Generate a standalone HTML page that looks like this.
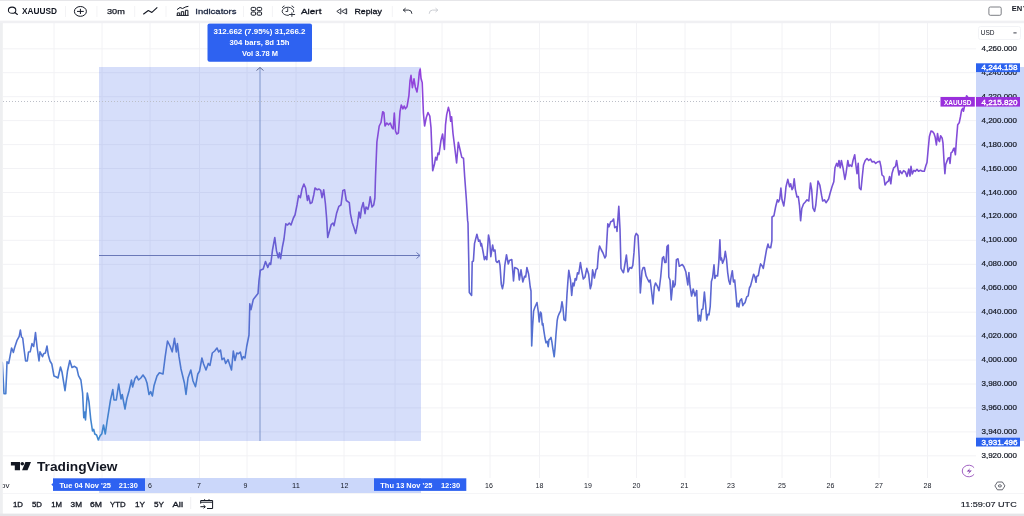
<!DOCTYPE html>
<html lang="en"><head><meta charset="utf-8"><title>XAUUSD 4,215.820 - TradingView</title>
<style>
html,body{margin:0;padding:0;background:#fff;}
body{width:1024px;height:516px;overflow:hidden;position:relative;font-family:"Liberation Sans", Arial, sans-serif;}
#app{position:absolute;left:0;top:0;width:1024px;height:516px;overflow:hidden;background:#fff;}
#app svg{position:absolute;left:0;top:0;display:block;overflow:visible;filter:blur(0.45px);}
text{font-family:"Liberation Sans", Arial, sans-serif;}
</style></head><body><div id="app">
<svg width="1024" height="516" viewBox="0 0 1024 516">
<defs>
<linearGradient id="lg" gradientUnits="userSpaceOnUse" x1="0" y1="67" x2="0" y2="441"><stop offset="0" stop-color="#9640dc"/><stop offset="0.5" stop-color="#655fd2"/><stop offset="1" stop-color="#3d88cf"/></linearGradient>
</defs>
<g id="grid" stroke="#f2f2f5" stroke-width="1">
<line x1="54" y1="23" x2="54" y2="478"/>
<line x1="102" y1="23" x2="102" y2="478"/>
<line x1="150" y1="23" x2="150" y2="478"/>
<line x1="199.5" y1="23" x2="199.5" y2="478"/>
<line x1="247" y1="23" x2="247" y2="478"/>
<line x1="296" y1="23" x2="296" y2="478"/>
<line x1="344" y1="23" x2="344" y2="478"/>
<line x1="395" y1="23" x2="395" y2="478"/>
<line x1="442" y1="23" x2="442" y2="478"/>
<line x1="490" y1="23" x2="490" y2="478"/>
<line x1="539.5" y1="23" x2="539.5" y2="478"/>
<line x1="588" y1="23" x2="588" y2="478"/>
<line x1="636.5" y1="23" x2="636.5" y2="478"/>
<line x1="685" y1="23" x2="685" y2="478"/>
<line x1="731" y1="23" x2="731" y2="478"/>
<line x1="782" y1="23" x2="782" y2="478"/>
<line x1="830.5" y1="23" x2="830.5" y2="478"/>
<line x1="879" y1="23" x2="879" y2="478"/>
<line x1="927.5" y1="23" x2="927.5" y2="478"/>
<line x1="3" y1="48.8" x2="976" y2="48.8"/>
<line x1="3" y1="72.7" x2="976" y2="72.7"/>
<line x1="3" y1="96.7" x2="976" y2="96.7"/>
<line x1="3" y1="120.6" x2="976" y2="120.6"/>
<line x1="3" y1="144.6" x2="976" y2="144.6"/>
<line x1="3" y1="168.5" x2="976" y2="168.5"/>
<line x1="3" y1="192.5" x2="976" y2="192.5"/>
<line x1="3" y1="216.4" x2="976" y2="216.4"/>
<line x1="3" y1="240.3" x2="976" y2="240.3"/>
<line x1="3" y1="264.3" x2="976" y2="264.3"/>
<line x1="3" y1="288.2" x2="976" y2="288.2"/>
<line x1="3" y1="312.2" x2="976" y2="312.2"/>
<line x1="3" y1="336.1" x2="976" y2="336.1"/>
<line x1="3" y1="360.0" x2="976" y2="360.0"/>
<line x1="3" y1="384.0" x2="976" y2="384.0"/>
<line x1="3" y1="407.9" x2="976" y2="407.9"/>
<line x1="3" y1="431.9" x2="976" y2="431.9"/>
<line x1="3" y1="455.8" x2="976" y2="455.8"/>
</g>
<rect id="measure" x="99" y="67" width="322" height="374" fill="#325ae6" fill-opacity="0.2"/>
<rect x="976" y="67" width="54" height="374" fill="#2f5feb" fill-opacity="0.25"/>
<rect x="99" y="478" width="322" height="15" fill="#2f5feb" fill-opacity="0.25"/>
<g stroke="#6a78b8" stroke-width="1" fill="none">
<line x1="260" y1="67.5" x2="260" y2="441" stroke="#7d93c9"/>
<polyline points="256.5,70.5 260,67.5 263.5,70.5" stroke="#5c6690"/>
<line x1="99" y1="255.5" x2="420" y2="255.5"/>
<polyline points="416.5,252.5 420,255.5 416.5,258.5"/>
</g>
<line x1="3" y1="101.5" x2="940" y2="101.5" stroke="#bcbfc8" stroke-width="1" stroke-dasharray="1 2"/>
<polyline id="series" points="2.3,362.5 4.0,393.7 5.8,393.7 7.0,361.7 8.7,363.4 11.6,348.0 13.4,352.4 14.5,348.0 16.9,340.7 19.2,336.4 20.4,330.0 21.5,337.0 22.7,338.0 23.9,348.0 25.6,361.0 27.3,361.0 28.5,352.0 30.2,351.8 32.0,343.6 33.7,346.5 35.5,332.6 37.2,348.0 39.0,361.0 40.0,351.8 42.5,356.7 43.6,353.8 45.4,353.0 47.0,346.0 48.3,355.0 50.0,361.0 51.8,364.0 54.0,376.0 56.4,377.0 58.0,378.0 60.5,367.0 62.0,372.0 65.0,390.7 67.5,371.0 69.8,360.5 72.0,367.5 74.5,366.3 76.8,368.0 78.5,375.6 80.9,380.0 82.6,393.0 83.8,417.8 84.9,412.0 85.5,420.0 87.3,393.0 89.0,401.8 90.7,419.0 92.5,431.0 93.7,429.4 94.8,434.0 96.6,435.0 98.3,440.0 100.0,436.0 101.8,433.8 103.5,425.0 105.3,434.0 107.0,422.0 110.5,400.0 112.8,389.6 114.0,400.0 116.3,400.0 118.7,384.0 121.0,399.0 122.2,394.5 125.0,409.0 126.8,399.0 129.0,391.0 131.5,380.0 132.6,387.0 135.0,378.5 136.7,376.2 138.5,380.0 140.8,378.0 143.0,375.0 145.4,378.5 147.0,383.0 149.0,394.5 150.7,391.6 152.4,396.0 154.0,385.8 157.0,376.0 159.4,372.7 163.0,374.0 165.2,356.7 167.5,341.0 170.0,346.0 172.2,351.8 174.5,338.4 176.3,352.0 177.4,343.6 179.0,356.7 181.0,369.0 182.7,376.0 184.4,383.0 186.0,394.5 188.0,378.0 190.8,370.0 193.0,381.0 195.5,386.7 197.8,374.0 199.5,371.3 201.9,358.0 203.6,364.0 206.0,370.0 208.3,363.4 210.0,365.4 212.3,353.0 214.7,351.0 217.0,348.0 218.7,352.0 220.5,350.0 222.0,359.6 224.0,358.0 225.7,363.4 228.0,359.6 231.5,370.0 233.3,351.0 235.0,360.5 236.8,353.0 238.5,353.8 240.3,352.0 242.0,359.6 243.2,356.7 245.0,358.0 246.7,346.5 249.0,335.0 249.6,312.0 249.8,303.8 251.0,309.6 253.3,299.4 255.6,296.5 258.0,293.6 259.0,280.5 260.3,270.3 263.2,269.0 265.5,261.6 267.8,267.4 269.6,263.0 270.7,264.5 272.5,250.0 274.8,237.5 276.5,250.9 278.3,257.8 279.4,252.9 280.6,258.7 282.4,247.0 284.0,239.0 285.8,223.8 287.6,225.0 289.3,223.0 291.0,225.0 293.4,218.0 295.0,215.0 297.0,205.0 298.6,195.6 300.4,197.6 302.0,189.0 303.9,184.0 305.6,188.0 307.4,200.5 308.5,195.6 310.3,203.5 312.0,202.6 313.8,194.7 315.0,188.0 317.3,189.8 319.0,189.0 320.7,190.4 322.0,197.6 323.7,189.8 325.4,203.5 326.6,218.0 327.7,237.5 329.5,231.0 331.2,224.7 333.0,223.0 334.0,225.8 336.5,213.6 338.8,206.4 341.0,205.0 342.9,190.4 344.6,189.8 346.3,200.5 349.3,202.6 350.4,213.6 352.2,222.4 353.9,227.6 355.7,233.4 357.4,224.7 359.0,212.0 360.3,218.0 361.5,208.4 363.2,202.6 365.0,213.6 366.0,207.0 367.9,209.3 369.0,205.0 370.2,196.8 372.0,207.0 373.7,205.0 374.9,198.0 375.5,177.0 376.9,142.0 379.2,126.0 381.0,122.5 382.7,111.7 383.9,112.6 385.0,126.0 386.8,123.0 388.5,124.8 390.3,123.0 392.0,127.7 393.2,129.0 394.3,113.0 395.5,131.0 396.7,134.0 398.4,133.0 400.0,111.7 401.3,105.0 403.0,108.8 404.2,106.0 405.4,108.8 407.0,106.8 408.9,95.7 410.0,81.0 411.0,75.4 412.4,87.6 414.0,78.9 415.3,87.0 417.0,92.0 418.2,84.0 419.3,72.5 420.2,69.0 421.0,78.3 422.2,82.6 423.4,113.0 424.6,126.0 426.3,117.5 428.0,112.6 429.8,116.0 431.0,127.7 432.0,154.0 432.7,170.8 434.5,164.0 435.6,157.4 436.8,160.0 438.0,153.0 439.0,154.5 440.9,140.8 442.6,134.0 444.4,149.5 445.5,124.8 446.7,114.6 448.4,107.4 449.6,111.7 450.7,121.3 451.6,116.7 453.0,133.5 454.8,148.0 456.6,163.0 458.3,142.3 460.0,149.5 461.8,157.4 463.5,158.3 464.7,177.0 466.4,200.0 467.6,220.4 468.0,223.0 468.7,258.0 469.3,292.5 471.6,295.4 472.2,261.7 473.4,261.0 474.5,243.6 476.9,234.3 478.6,241.3 479.8,240.0 481.0,246.0 481.5,243.6 483.3,253.0 484.4,259.6 485.6,256.7 486.8,259.6 488.5,235.0 489.7,240.7 490.8,256.7 492.6,245.0 493.7,251.0 495.0,250.0 496.0,261.0 497.2,262.5 499.0,260.5 500.0,265.4 501.3,284.4 502.5,288.7 503.6,283.0 504.8,265.4 506.5,254.7 508.3,264.0 509.4,260.5 511.8,259.6 513.0,274.0 513.5,281.0 514.7,267.5 517.0,268.4 518.2,269.8 519.3,280.0 521.0,269.8 522.8,282.0 524.6,276.2 525.7,277.0 526.9,267.5 528.6,274.0 529.4,280.0 530.2,287.0 531.0,291.0 531.4,326.5 531.7,346.0 532.6,326.5 533.6,311.0 535.0,307.0 537.0,302.5 538.2,311.0 539.2,322.0 540.4,312.0 541.3,313.4 542.3,325.0 542.9,323.4 543.8,330.4 545.0,338.0 546.0,342.8 547.2,341.3 548.2,346.7 549.0,339.7 550.0,339.0 551.0,337.4 551.9,342.0 552.8,348.3 554.2,356.8 555.0,348.3 556.0,334.3 557.2,320.3 558.0,316.5 559.3,313.4 560.6,311.0 562.0,301.7 563.0,308.0 564.0,319.6 565.5,320.6 566.2,309.5 567.0,294.0 568.0,280.0 568.8,270.4 570.5,280.0 571.7,295.4 572.9,283.0 574.0,285.8 575.2,278.5 576.3,280.0 577.5,272.7 578.7,274.0 580.4,262.5 581.6,269.8 583.3,279.0 585.0,277.0 586.8,268.4 588.6,274.0 590.3,288.7 591.5,284.4 592.6,269.8 594.4,278.0 596.0,269.8 597.3,268.4 598.5,252.4 599.6,246.0 601.4,250.0 603.0,253.0 604.9,258.0 606.0,255.8 607.8,223.8 609.0,226.8 610.7,221.8 612.4,221.0 613.6,219.0 614.7,227.6 616.5,226.8 617.0,231.4 618.8,206.4 620.0,229.0 621.0,268.4 622.3,271.0 623.5,272.7 625.2,262.5 626.4,255.0 628.0,272.0 629.9,267.5 631.6,268.4 632.8,265.4 634.0,252.4 635.0,236.4 636.3,233.4 638.0,235.5 639.2,258.0 640.3,293.0 642.0,271.0 643.2,267.5 644.4,267.5 646.0,275.6 647.3,278.5 649.0,282.0 650.2,280.0 651.4,290.0 653.0,304.0 654.3,287.0 655.5,283.0 657.2,285.8 659.0,290.7 660.7,277.0 662.4,258.0 663.6,256.7 664.8,262.5 666.0,262.5 667.0,246.5 668.3,245.0 668.8,277.0 670.0,280.0 671.2,300.0 673.0,280.9 674.0,287.0 675.2,284.4 676.4,259.6 678.0,258.8 679.3,266.3 680.0,265.9 682.3,264.5 683.9,266.8 685.8,271.7 687.8,285.0 688.9,272.6 690.0,286.0 691.6,296.0 693.2,289.0 695.0,296.0 696.7,290.5 697.4,307.5 698.2,321.0 699.4,315.3 700.5,321.0 701.7,309.5 702.9,309.0 704.4,292.0 705.6,304.6 706.7,320.0 707.9,314.3 709.0,314.9 710.2,306.6 711.4,281.4 712.6,277.5 714.0,264.9 714.9,278.4 716.0,275.5 717.6,276.0 718.8,262.0 719.9,239.7 720.7,260.0 721.5,258.0 722.6,263.3 724.2,259.0 725.3,251.3 726.5,259.0 727.7,272.6 728.8,280.4 730.0,284.3 731.2,276.5 732.3,270.7 733.5,282.0 734.7,280.0 735.8,292.0 737.0,306.6 738.0,303.3 738.9,307.0 740.0,300.7 741.6,298.8 742.8,305.6 744.0,303.6 745.0,302.7 746.7,296.9 748.2,295.9 749.4,288.0 750.5,286.0 752.0,280.4 753.6,274.2 754.8,276.5 756.0,282.3 756.7,276.5 758.3,275.5 759.5,268.8 760.6,263.9 762.2,265.9 763.3,268.4 764.9,259.0 766.4,250.3 768.0,244.0 769.0,247.4 770.7,247.8 771.9,240.7 772.0,217.0 773.9,215.8 775.6,207.0 777.4,199.8 778.5,202.0 779.7,199.0 780.9,188.0 782.0,199.8 783.8,206.0 785.0,197.0 786.0,186.7 787.8,179.4 789.6,186.7 790.7,183.8 792.0,189.6 793.0,188.0 794.2,178.9 795.4,189.6 797.0,197.0 798.3,196.5 799.5,205.6 800.6,220.8 801.8,208.5 803.5,204.0 805.3,202.0 807.0,199.8 808.8,201.0 810.5,183.0 811.7,189.6 812.9,208.0 814.6,211.4 815.8,205.0 817.0,192.5 818.0,181.0 819.8,185.0 821.6,195.4 822.7,201.0 824.5,199.8 826.0,202.7 828.6,199.0 830.3,192.5 832.0,186.7 833.8,181.8 835.0,167.8 836.7,163.4 837.9,166.4 839.0,160.5 840.2,167.8 841.4,160.5 843.0,167.8 844.9,179.4 846.0,173.6 847.8,160.5 849.0,166.4 850.0,165.0 851.8,166.4 853.0,160.5 854.7,154.7 855.9,165.0 857.0,173.6 858.2,163.4 859.4,188.0 861.0,189.6 862.3,176.5 863.5,165.0 865.2,160.5 867.0,158.5 868.7,160.5 870.4,159.0 872.2,162.0 874.0,161.4 875.7,163.4 877.4,162.0 879.8,161.4 880.9,166.4 882.0,175.0 883.8,176.5 885.0,185.0 886.7,182.4 888.5,181.0 889.6,176.5 890.8,183.8 892.0,173.6 893.7,167.8 895.5,166.4 896.6,160.5 897.8,167.8 899.0,175.0 900.0,170.7 901.9,173.6 903.6,170.7 905.4,172.0 907.0,176.5 908.8,169.0 910.0,176.0 911.0,166.4 912.3,174.0 913.9,170.3 915.4,171.3 917.0,169.3 918.5,171.3 920.5,170.3 922.4,171.3 924.3,171.3 925.9,165.5 927.0,162.5 928.2,149.0 929.4,136.4 931.0,131.0 932.5,131.5 934.0,133.5 935.2,137.3 936.4,145.0 937.5,133.5 938.7,140.3 939.5,141.6 940.6,135.8 942.2,138.3 943.0,143.2 944.1,162.5 944.9,173.8 945.7,164.5 946.8,161.6 948.0,158.3 949.2,157.7 950.0,163.5 951.0,152.9 952.3,151.9 953.4,149.0 954.2,148.0 955.4,154.8 956.5,139.3 957.7,124.7 959.2,122.8 960.4,117.0 961.6,110.2 962.7,108.3 963.5,111.2 964.3,107.3 965.2,101.0 966.6,95.7 967.6,97.0" fill="none" stroke="url(#lg)" stroke-width="1.6" stroke-linejoin="round" stroke-linecap="round"/>
<g id="price-axis" font-size="7.6" fill="#131722">
<text x="981.5" y="50.8" font-size="7.6" font-weight="400" fill="#131722" textLength="35.5" lengthAdjust="spacingAndGlyphs" stroke="#131722" stroke-width="0.2">4,260.000</text>
<text x="981.5" y="74.7" font-size="7.6" font-weight="400" fill="#131722" textLength="35.5" lengthAdjust="spacingAndGlyphs" stroke="#131722" stroke-width="0.2">4,240.000</text>
<text x="981.5" y="98.7" font-size="7.6" font-weight="400" fill="#131722" textLength="35.5" lengthAdjust="spacingAndGlyphs" stroke="#131722" stroke-width="0.2">4,220.000</text>
<text x="981.5" y="122.6" font-size="7.6" font-weight="400" fill="#131722" textLength="35.5" lengthAdjust="spacingAndGlyphs" stroke="#131722" stroke-width="0.2">4,200.000</text>
<text x="981.5" y="146.6" font-size="7.6" font-weight="400" fill="#131722" textLength="35.5" lengthAdjust="spacingAndGlyphs" stroke="#131722" stroke-width="0.2">4,180.000</text>
<text x="981.5" y="170.5" font-size="7.6" font-weight="400" fill="#131722" textLength="35.5" lengthAdjust="spacingAndGlyphs" stroke="#131722" stroke-width="0.2">4,160.000</text>
<text x="981.5" y="194.5" font-size="7.6" font-weight="400" fill="#131722" textLength="35.5" lengthAdjust="spacingAndGlyphs" stroke="#131722" stroke-width="0.2">4,140.000</text>
<text x="981.5" y="218.4" font-size="7.6" font-weight="400" fill="#131722" textLength="35.5" lengthAdjust="spacingAndGlyphs" stroke="#131722" stroke-width="0.2">4,120.000</text>
<text x="981.5" y="242.3" font-size="7.6" font-weight="400" fill="#131722" textLength="35.5" lengthAdjust="spacingAndGlyphs" stroke="#131722" stroke-width="0.2">4,100.000</text>
<text x="981.5" y="266.3" font-size="7.6" font-weight="400" fill="#131722" textLength="35.5" lengthAdjust="spacingAndGlyphs" stroke="#131722" stroke-width="0.2">4,080.000</text>
<text x="981.5" y="290.2" font-size="7.6" font-weight="400" fill="#131722" textLength="35.5" lengthAdjust="spacingAndGlyphs" stroke="#131722" stroke-width="0.2">4,060.000</text>
<text x="981.5" y="314.2" font-size="7.6" font-weight="400" fill="#131722" textLength="35.5" lengthAdjust="spacingAndGlyphs" stroke="#131722" stroke-width="0.2">4,040.000</text>
<text x="981.5" y="338.1" font-size="7.6" font-weight="400" fill="#131722" textLength="35.5" lengthAdjust="spacingAndGlyphs" stroke="#131722" stroke-width="0.2">4,020.000</text>
<text x="981.5" y="362.0" font-size="7.6" font-weight="400" fill="#131722" textLength="35.5" lengthAdjust="spacingAndGlyphs" stroke="#131722" stroke-width="0.2">4,000.000</text>
<text x="981.5" y="386.0" font-size="7.6" font-weight="400" fill="#131722" textLength="35.5" lengthAdjust="spacingAndGlyphs" stroke="#131722" stroke-width="0.2">3,980.000</text>
<text x="981.5" y="409.9" font-size="7.6" font-weight="400" fill="#131722" textLength="35.5" lengthAdjust="spacingAndGlyphs" stroke="#131722" stroke-width="0.2">3,960.000</text>
<text x="981.5" y="433.9" font-size="7.6" font-weight="400" fill="#131722" textLength="35.5" lengthAdjust="spacingAndGlyphs" stroke="#131722" stroke-width="0.2">3,940.000</text>
<text x="981.5" y="457.8" font-size="7.6" font-weight="400" fill="#131722" textLength="35.5" lengthAdjust="spacingAndGlyphs" stroke="#131722" stroke-width="0.2">3,920.000</text>
</g>
<rect x="978.5" y="26.5" width="42" height="13" rx="2" fill="#fff" stroke="#f2f3f6"/>
<text x="980.8" y="35.1" font-size="7.4" font-weight="400" fill="#131722" textLength="13.8" lengthAdjust="spacingAndGlyphs" >USD</text>
<rect x="1013.4" y="32.4" width="3.2" height="1" fill="#3a3e4a"/>
<rect x="976" y="63.3" width="44" height="8.8" fill="#2b62ef"/>
<text x="981.5" y="70.1" font-size="7.6" font-weight="400" fill="#fff" textLength="36.0" lengthAdjust="spacingAndGlyphs" stroke="#fff" stroke-width="0.35">4,244.158</text>
<rect x="976" y="437.7" width="44" height="8.8" fill="#2b62ef"/>
<text x="981.5" y="444.5" font-size="7.6" font-weight="400" fill="#fff" textLength="36.0" lengthAdjust="spacingAndGlyphs" stroke="#fff" stroke-width="0.35">3,931.496</text>
<rect x="940.5" y="97" width="34.3" height="9.6" fill="#9a2fdc"/>
<text x="944" y="104.5" font-size="7.4" font-weight="700" fill="#fff" textLength="27.5" lengthAdjust="spacingAndGlyphs" >XAUUSD</text>
<rect x="976" y="97.0" width="44" height="9.6" fill="#9a2fdc"/>
<text x="981.5" y="104.6" font-size="7.6" font-weight="400" fill="#fff" textLength="36.0" lengthAdjust="spacingAndGlyphs" stroke="#fff" stroke-width="0.35">4,215.820</text>
<rect x="207.5" y="23.6" width="104.5" height="38.2" rx="2" fill="#2e62f1"/>
<text x="213.5" y="33.7" font-size="7.6" font-weight="700" fill="#fff" textLength="92.0" lengthAdjust="spacingAndGlyphs" >312.662 (7.95%) 31,266.2</text>
<text x="229.5" y="45.2" font-size="7.6" font-weight="700" fill="#fff" textLength="60.0" lengthAdjust="spacingAndGlyphs" >304 bars, 8d 15h</text>
<text x="242" y="56.4" font-size="7.6" font-weight="700" fill="#fff" textLength="36.0" lengthAdjust="spacingAndGlyphs" >Vol 3.78 M</text>
<g id="tv-logo" fill="#131722">
<path d="M10.9 462.1h9.1v8.15h-5.2v-4.75h-3.9z"/>
<ellipse cx="22.3" cy="463.8" rx="1.8" ry="1.7"/>
<path d="M25.4 462.1h5.6l-3.5 8.15h-5.4z"/>
<text x="37" y="470.6" font-size="12" font-weight="700" fill="#131722" textLength="80.5" lengthAdjust="spacingAndGlyphs" >TradingView</text>
</g>
<g id="time-axis">
<text x="148.05" y="488.2" font-size="7.6" font-weight="400" fill="#131722" textLength="3.9" lengthAdjust="spacingAndGlyphs" >6</text>
<text x="197.05" y="488.2" font-size="7.6" font-weight="400" fill="#131722" textLength="3.9" lengthAdjust="spacingAndGlyphs" >7</text>
<text x="243.55" y="488.2" font-size="7.6" font-weight="400" fill="#131722" textLength="3.9" lengthAdjust="spacingAndGlyphs" >9</text>
<text x="292.1" y="488.2" font-size="7.6" font-weight="400" fill="#131722" textLength="7.8" lengthAdjust="spacingAndGlyphs" >11</text>
<text x="340.6" y="488.2" font-size="7.6" font-weight="400" fill="#131722" textLength="7.8" lengthAdjust="spacingAndGlyphs" >12</text>
<text x="485.1" y="488.2" font-size="7.6" font-weight="400" fill="#131722" textLength="7.8" lengthAdjust="spacingAndGlyphs" >16</text>
<text x="535.6" y="488.2" font-size="7.6" font-weight="400" fill="#131722" textLength="7.8" lengthAdjust="spacingAndGlyphs" >18</text>
<text x="584.1" y="488.2" font-size="7.6" font-weight="400" fill="#131722" textLength="7.8" lengthAdjust="spacingAndGlyphs" >19</text>
<text x="632.6" y="488.2" font-size="7.6" font-weight="400" fill="#131722" textLength="7.8" lengthAdjust="spacingAndGlyphs" >20</text>
<text x="680.6" y="488.2" font-size="7.6" font-weight="400" fill="#131722" textLength="7.8" lengthAdjust="spacingAndGlyphs" >21</text>
<text x="727.1" y="488.2" font-size="7.6" font-weight="400" fill="#131722" textLength="7.8" lengthAdjust="spacingAndGlyphs" >23</text>
<text x="778.1" y="488.2" font-size="7.6" font-weight="400" fill="#131722" textLength="7.8" lengthAdjust="spacingAndGlyphs" >25</text>
<text x="826.6" y="488.2" font-size="7.6" font-weight="400" fill="#131722" textLength="7.8" lengthAdjust="spacingAndGlyphs" >26</text>
<text x="875.1" y="488.2" font-size="7.6" font-weight="400" fill="#131722" textLength="7.8" lengthAdjust="spacingAndGlyphs" >27</text>
<text x="923.6" y="488.2" font-size="7.6" font-weight="400" fill="#131722" textLength="7.8" lengthAdjust="spacingAndGlyphs" >28</text>
<text x="1" y="488.2" font-size="7.6" font-weight="400" fill="#131722" textLength="8.5" lengthAdjust="spacingAndGlyphs" >ov</text>
<rect x="53" y="478.3" width="92" height="12.6" fill="#2e62f1"/>
<text x="59.6" y="488.2" font-size="7.6" font-weight="700" fill="#fff" textLength="51.4" lengthAdjust="spacingAndGlyphs" >Tue 04 Nov '25</text>
<text x="118.8" y="488.2" font-size="7.6" font-weight="700" fill="#fff" textLength="19.0" lengthAdjust="spacingAndGlyphs" >21:30</text>
<path d="M51.3 484.6l1.8-1.6v3.2z" fill="#2e62f1"/>
<rect x="374" y="478.3" width="92.30000000000001" height="12.6" fill="#2e62f1"/>
<text x="380.3" y="488.2" font-size="7.6" font-weight="700" fill="#fff" textLength="52.2" lengthAdjust="spacingAndGlyphs" >Thu 13 Nov '25</text>
<text x="440.9" y="488.2" font-size="7.6" font-weight="700" fill="#fff" textLength="19.4" lengthAdjust="spacingAndGlyphs" >12:30</text>
</g>
<g fill="none" stroke="#9650bb" stroke-width="0.9">
<path d="M974.1 467.7A6.5 5.8 0 1 0 974.1 474.3"/>
<path d="M970.4 467.9l-3.7 3.5h3l-1.9 3.1 4-3.9h-3z" fill="#7b2fa8" stroke="none"/>
</g>
<g fill="none" stroke="#4a4d57" stroke-width="0.85"><path d="M997.4 482h5l2.5 3.9-2.5 3.9h-5l-2.5-3.9z"/><ellipse cx="999.9" cy="485.9" rx="1.6" ry="1.1"/></g>
<rect x="-6" y="-6" width="1036" height="7" fill="#e6e6e9"/>
<rect x="-6" y="20.4" width="1036" height="2.8" fill="#f0f0f3"/>
<rect x="-6" y="23" width="8.8" height="491" fill="#eeeff1"/>
<rect x="-6" y="513.6" width="1036" height="8.4" fill="#e5e5e8"/>
<rect x="3" y="493" width="1021" height="1" fill="#f5f5f7"/>
<g id="toolbar">
<rect x="-6" y="1" width="1036" height="19.4" fill="#fff"/>
<g fill="none" stroke="#131722" stroke-width="1.05"><ellipse cx="12.1" cy="10.2" rx="3.7" ry="3.1"/><path d="M14.9 12.5l2.5 2" stroke-linecap="round"/></g>
<text x="22" y="14" font-size="8.4" font-weight="700" fill="#131722" textLength="35.0" lengthAdjust="spacingAndGlyphs" >XAUUSD</text>
<rect x="65.0" y="6" width="1" height="11" fill="#f3f3f5"/>
<rect x="96.4" y="6" width="1" height="11" fill="#f3f3f5"/>
<rect x="134.2" y="6" width="1" height="11" fill="#f3f3f5"/>
<rect x="165.5" y="6" width="1" height="11" fill="#f3f3f5"/>
<rect x="243.0" y="6" width="1" height="11" fill="#f3f3f5"/>
<rect x="271.9" y="6" width="1" height="11" fill="#f3f3f5"/>
<rect x="391.8" y="6" width="1" height="11" fill="#f3f3f5"/>
<g fill="none" stroke="#131722" stroke-width="1"><ellipse cx="80.4" cy="11.4" rx="6" ry="4.9"/><path d="M77 11.4h6.8M80.4 8.8v5.2"/></g>
<text x="107" y="13.8" font-size="7.6" font-weight="400" fill="#131722" textLength="17.8" lengthAdjust="spacingAndGlyphs" stroke="#131722" stroke-width="0.25">30m</text>
<path d="M143.3 14.2l5-3.7 3.6 1.9 5.4-5" fill="none" stroke="#131722" stroke-width="1.1" stroke-linejoin="round"/>
<g fill="none" stroke="#131722" stroke-width="1"><path d="M177 9.6l3-2.1 2.6 1 3.2-1.6 2.6-0.6"/><path d="M177.3 15.3v-2.4h2.4v2.4M181.3 15.3v-3.6h2.4v3.6M185.4 15.3v-5h2.5v5M176.6 15.4h12"/></g>
<text x="195.3" y="13.8" font-size="7.9" font-weight="400" fill="#1f2a44" textLength="41.2" lengthAdjust="spacingAndGlyphs" stroke="#1f2a44" stroke-width="0.3">Indicators</text>
<g fill="none" stroke="#131722" stroke-width="1">
<rect x="251.2" y="7.4" width="4.4" height="3.2" rx="1"/>
<rect x="257.2" y="7.4" width="4.4" height="3.2" rx="1"/>
<rect x="251.2" y="12" width="4.4" height="3.2" rx="1"/>
<rect x="257.2" y="12" width="4.4" height="3.2" rx="1"/>
</g>
<g fill="none" stroke="#2a2e39" stroke-width="0.95" stroke-linecap="round"><path d="M293.7 11.9A5.8 4.1 0 1 0 288.4 15.4"/><path d="M287.7 8.6v2.9h-1.7"/><path d="M282.3 7.6q0.4-1.2 1.8-1.6M293.8 7.6q-0.4-1.2-1.8-1.6"/><path d="M289.2 14.5h5.5M291.9 12.8v3.6"/></g>
<text x="301" y="13.7" font-size="7.8" font-weight="400" fill="#131722" textLength="20.4" lengthAdjust="spacingAndGlyphs" stroke="#131722" stroke-width="0.3">Alert</text>
<g fill="none" stroke="#2a2e39" stroke-width="0.9" stroke-linejoin="round"><path d="M340.8 8.7v5.3l-4-2.65z"/><path d="M346.3 8.7v5.3l-4.6-2.65z"/><path d="M346.7 8.6v5.5" stroke-width="0.7"/></g>
<text x="354.4" y="13.7" font-size="7.8" font-weight="400" fill="#131722" textLength="27.4" lengthAdjust="spacingAndGlyphs" stroke="#131722" stroke-width="0.3">Replay</text>
<g fill="none" stroke-width="0.95" stroke-linecap="round" stroke-linejoin="round"><path d="M405.3 8.4l-2 1.7 2 1.7M403.5 10.1h5.2q3.1 0.1 3.2 3.3" stroke="#2a2e39"/><path d="M435.8 8.4l2 1.7-2 1.7M437.6 10.1h-5.2q-3.1 0.1-3.2 3.3" stroke="#c9cbd2"/></g>
<rect x="988.9" y="7" width="12.3" height="8.3" rx="1.4" fill="none" stroke="#6d6f76" stroke-width="0.9"/>
<text x="1011.7" y="10.9" font-size="7.7" font-weight="700" fill="#131722" textLength="10.5" lengthAdjust="spacingAndGlyphs" >EN</text>
<text x="1022.9" y="10.9" font-size="7.7" font-weight="700" fill="#131722" textLength="6.6" lengthAdjust="spacingAndGlyphs" >V</text>
</g>
<g id="bottom-toolbar">
<text x="13" y="507" font-size="7.6" font-weight="400" fill="#131722" textLength="10.0" lengthAdjust="spacingAndGlyphs" stroke="#131722" stroke-width="0.3">1D</text>
<text x="32" y="507" font-size="7.6" font-weight="400" fill="#131722" textLength="10.0" lengthAdjust="spacingAndGlyphs" stroke="#131722" stroke-width="0.3">5D</text>
<text x="51.2" y="507" font-size="7.6" font-weight="400" fill="#131722" textLength="10.8" lengthAdjust="spacingAndGlyphs" stroke="#131722" stroke-width="0.3">1M</text>
<text x="70.6" y="507" font-size="7.6" font-weight="400" fill="#131722" textLength="11.4" lengthAdjust="spacingAndGlyphs" stroke="#131722" stroke-width="0.3">3M</text>
<text x="90" y="507" font-size="7.6" font-weight="400" fill="#131722" textLength="12.0" lengthAdjust="spacingAndGlyphs" stroke="#131722" stroke-width="0.3">6M</text>
<text x="110" y="507" font-size="7.6" font-weight="400" fill="#131722" textLength="15.6" lengthAdjust="spacingAndGlyphs" stroke="#131722" stroke-width="0.3">YTD</text>
<text x="135" y="507" font-size="7.6" font-weight="400" fill="#131722" textLength="10.0" lengthAdjust="spacingAndGlyphs" stroke="#131722" stroke-width="0.3">1Y</text>
<text x="154" y="507" font-size="7.6" font-weight="400" fill="#131722" textLength="10.0" lengthAdjust="spacingAndGlyphs" stroke="#131722" stroke-width="0.3">5Y</text>
<text x="172.5" y="507" font-size="7.6" font-weight="400" fill="#131722" textLength="10.5" lengthAdjust="spacingAndGlyphs" stroke="#131722" stroke-width="0.3">All</text>
<rect x="190.2" y="497" width="1" height="12" fill="#f0f0f3"/>
<g fill="none" stroke="#131722" stroke-width="1"><path d="M200.7 503.6v-3.1h11.9v8h-5.6M204.6 499.2v1.4M209 499.2v1.4M200.7 502.2h11.9"/><path d="M200.4 506.7h4.8M203.6 505.1l1.7 1.6-1.7 1.6"/></g>
<text x="960.8" y="507.2" font-size="7.8" font-weight="400" fill="#131722" textLength="55.9" lengthAdjust="spacingAndGlyphs" stroke="#131722" stroke-width="0.15">11:59:07 UTC</text>
</g>
</svg></div></body></html>
